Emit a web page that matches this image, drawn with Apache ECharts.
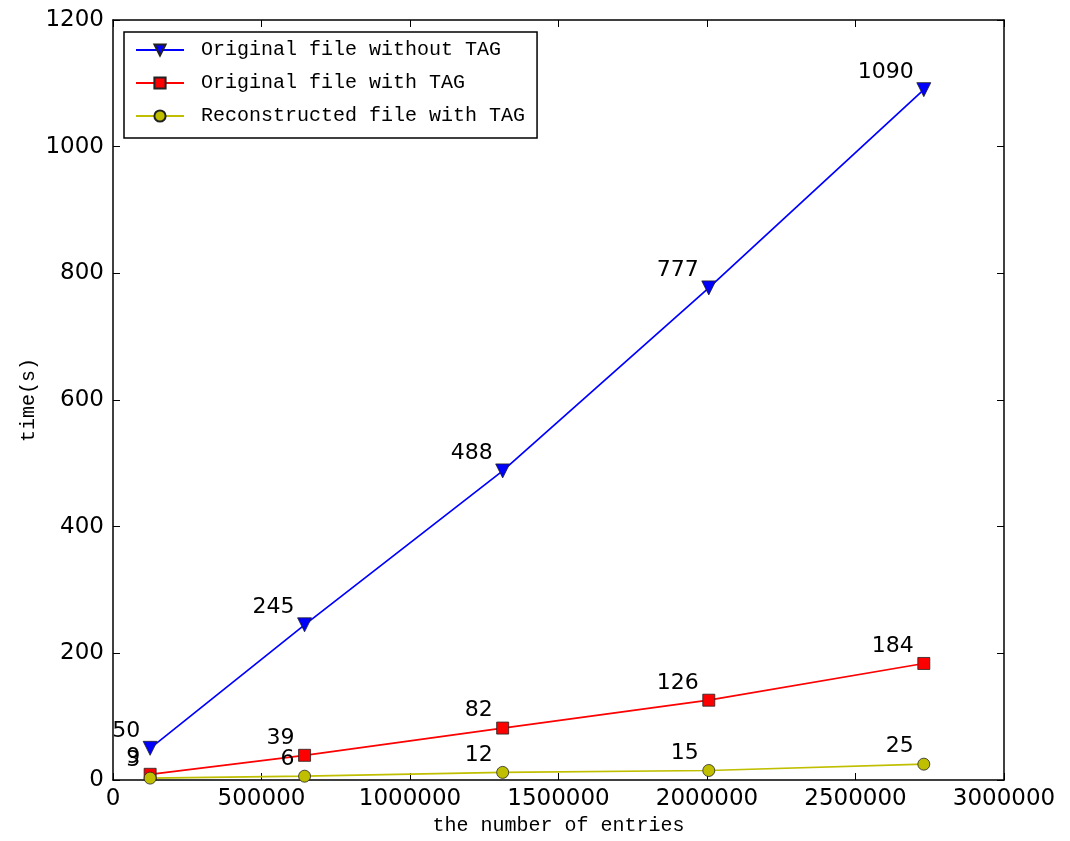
<!DOCTYPE html>
<html>
<head>
<meta charset="utf-8">
<script src="https://cdn.jsdelivr.net/npm/echarts@6/dist/echarts.min.js"></script>
<style>html,body{margin:0;padding:0;background:#fff;}#c{width:1070px;height:841px;}</style>
</head>
<body>
<div id="c"></div>
<script>
const entries = [125000, 645000, 1312000, 2006000, 2730000];
const withoutTag = [50, 245, 488, 777, 1090];
const withTag = [9, 39, 82, 126, 184];
const reconstructed = [3, 6, 12, 15, 25];
const seriesNames = ['Original file without TAG', 'Original file with TAG', 'Reconstructed file with TAG'];

const pairs = arr => entries.map((x, i) => [x, arr[i]]);
const monoFont = '"Liberation Mono", "DejaVu Sans Mono", monospace';
const sansFont = '"DejaVu Sans", sans-serif';

function mkSeries(name, data, color, symbol, size, rotate, dist) {
  return {
    name: name, type: 'line', data: pairs(data),
    symbol: symbol, symbolSize: size, symbolRotate: rotate,
    lineStyle: { color: color, width: 1.7 },
    itemStyle: { color: color, borderColor: '#222', borderWidth: 0.8 },
    label: {
      show: true, position: 'top', distance: dist, align: 'right', verticalAlign: 'middle',
      offset: [-10, 0], fontFamily: sansFont, fontSize: 22, color: '#000'
    },
    emphasis: { disabled: true },
    animation: false, z: 3
  };
}

const chart = echarts.init(document.getElementById('c'), null, { renderer: 'canvas' });
const axisLineStyle = { show: true, onZero: false, lineStyle: { color: '#000', width: 1.5 } };
const plain = v => String(v);
chart.setOption({
  backgroundColor: '#fff',
  animation: false,
  grid: { left: 113, right: 66, top: 20, bottom: 58 },
  legend: {
    orient: 'vertical', left: 124, top: 32,
    padding: [8, 12, 12, 11], itemGap: 13, itemWidth: 48, itemHeight: 14,
    borderColor: '#000', borderWidth: 1.5, backgroundColor: '#fff',
    textStyle: { fontFamily: monoFont, fontSize: 20, color: '#000', lineHeight: 20, padding: [0, 0, 0, 12] },
    data: seriesNames
  },
  xAxis: [{
    type: 'value', min: 0, max: 3000000, interval: 500000,
    name: 'the number of entries', nameLocation: 'middle', nameGap: 36,
    nameTextStyle: { fontFamily: monoFont, fontSize: 20, color: '#000' },
    axisLine: axisLineStyle,
    axisTick: { show: true, inside: true, length: 7, lineStyle: { color: '#000' } },
    axisLabel: { fontFamily: sansFont, fontSize: 23, color: '#000', margin: 8, formatter: plain },
    splitLine: { show: false }
  }, {
    type: 'value', position: 'top', min: 0, max: 3000000, interval: 500000,
    axisLine: axisLineStyle,
    axisTick: { show: true, inside: true, length: 7, lineStyle: { color: '#000' } },
    axisLabel: { show: false }, splitLine: { show: false }
  }],
  yAxis: [{
    type: 'value', min: 0, max: 1200, interval: 200,
    name: 'time(s)', nameLocation: 'middle', nameGap: 74, nameRotate: 90, nameMoveOverlap: false,
    nameTextStyle: { fontFamily: monoFont, fontSize: 20, color: '#000' },
    axisLine: axisLineStyle,
    axisTick: { show: true, inside: true, length: 7, lineStyle: { color: '#000' } },
    axisLabel: { fontFamily: sansFont, fontSize: 23, color: '#000', margin: 9, formatter: plain },
    splitLine: { show: false }
  }, {
    type: 'value', position: 'right', min: 0, max: 1200, interval: 200,
    axisLine: axisLineStyle,
    axisTick: { show: true, inside: true, length: 7, lineStyle: { color: '#000' } },
    axisLabel: { show: false }, splitLine: { show: false }
  }],
  series: [
    mkSeries(seriesNames[0], withoutTag, '#0000ff', 'triangle', 14, 180, 10),
    mkSeries(seriesNames[1], withTag, '#ff0000', 'rect', 12, 0, 11),
    mkSeries(seriesNames[2], reconstructed, '#bfbf00', 'circle', 12, 0, 11)
  ]
});
</script>
</body>
</html>
